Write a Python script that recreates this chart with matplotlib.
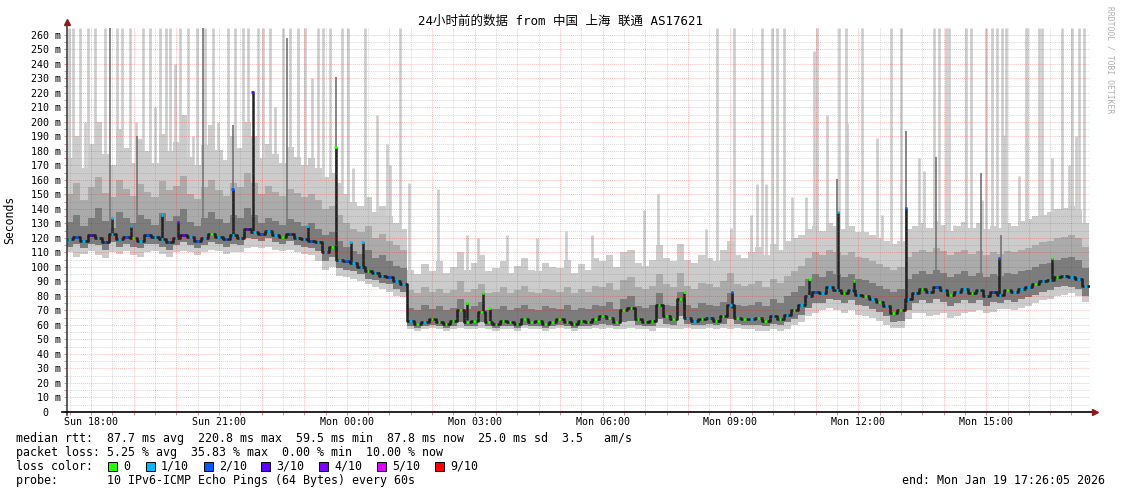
import matplotlib
matplotlib.use('Agg')
import matplotlib.pyplot as plt
import numpy as np
from matplotlib.patches import Rectangle

plt.rcParams['font.family'] = ['DejaVu Sans Mono', 'Noto Sans CJK SC']

# 10 minute samples, hours counted from Sun 00:00
t_first = 17.5
step_h = 1 / 6.

median_ms = [119, 121, 118, 122, 120, 117, 123, 119, 121, 120, 118, 122,
             121, 119, 117, 120, 122, 121, 118, 120, 123, 121, 119, 122,
             120, 126, 124, 123, 125, 122, 121, 123, 120, 119, 118, 117,
             110, 114, 105, 104, 103, 100, 97, 96, 94, 93, 90, 88,
             63, 61, 62, 64, 62, 61, 63, 70, 62, 63, 69, 62,
             61, 63, 62, 61, 64, 62, 63, 61, 62, 64, 62, 61,
             63, 62, 64, 66, 65, 62, 70, 72, 64, 62, 63, 74,
             66, 64, 78, 65, 63, 64, 65, 63, 66, 74, 65, 64,
             64, 65, 63, 66, 64, 67, 70, 74, 80, 83, 82, 86,
             84, 82, 84, 81, 80, 78, 76, 73, 68, 70, 78, 82,
             85, 83, 86, 84, 81, 83, 85, 82, 84, 80, 83, 81,
             84, 83, 85, 86, 88, 90, 91, 93, 94, 93, 92, 87]

loss_n = [1, 2, 1, 3, 1, 2, 1, 1, 2, 0, 1, 2,
          1, 1, 2, 1, 3, 1, 2, 1, 0, 1, 2, 1,
          1, 3, 1, 2, 1, 1, 0, 2, 1, 1, 2, 1,
          1, 0, 1, 2, 1, 1, 0, 1, 1, 2, 1, 1,
          1, 0, 1, 0, 0, 0, 0, 0, 0, 0, 0, 0,
          0, 0, 0, 0, 0, 0, 0, 0, 0, 0, 0, 0,
          0, 0, 0, 0, 0, 0, 0, 0, 0, 0, 0, 0,
          0, 0, 0, 1, 1, 0, 1, 0, 0, 1, 0, 0,
          1, 0, 0, 1, 0, 1, 0, 1, 1, 2, 1, 1,
          1, 0, 1, 1, 0, 1, 0, 1, 0, 0, 1, 1,
          0, 1, 2, 1, 0, 1, 1, 0, 1, 1, 2, 1,
          0, 1, 1, 1, 0, 1, 1, 0, 1, 1, 1, 1]

ping_min = [110, 107, 109, 111, 108, 106, 110, 109, 111, 108, 107, 110,
            111, 109, 107, 110, 111, 110, 108, 110, 112, 111, 109, 110,
            110, 113, 114, 113, 114, 112, 111, 112, 110, 109, 108, 104,
            98, 100, 94, 93, 92, 90, 88, 86, 85, 83, 80, 79,
            57, 56, 57, 58, 57, 56, 57, 58, 57, 57, 58, 57,
            56, 57, 57, 56, 58, 57, 57, 56, 57, 58, 57, 56,
            57, 57, 58, 57, 58, 57, 57, 58, 57, 57, 56, 58,
            58, 57, 57, 58, 57, 57, 58, 57, 58, 57, 58, 57,
            57, 56, 56, 57, 56, 57, 60, 62, 66, 68, 70, 72,
            70, 68, 70, 67, 66, 65, 63, 60, 58, 58, 64, 68,
            68, 66, 67, 68, 65, 66, 68, 69, 70, 68, 69, 71,
            71, 70, 72, 73, 75, 77, 78, 80, 81, 82, 80, 76]

ping_q1 = [114, 116, 113, 116, 115, 112, 117, 114, 116, 114, 113, 116,
           116, 114, 112, 115, 117, 115, 113, 115, 117, 116, 114, 116,
           115, 120, 119, 118, 120, 117, 116, 118, 115, 114, 113, 111,
           104, 107, 99, 98, 97, 95, 92, 91, 89, 88, 85, 83,
           59, 58, 59, 60, 59, 58, 59, 62, 59, 59, 62, 59,
           58, 59, 59, 58, 60, 59, 59, 58, 59, 60, 59, 58,
           59, 59, 60, 61, 60, 59, 62, 63, 60, 59, 59, 64,
           61, 60, 66, 61, 60, 60, 61, 60, 61, 64, 61, 60,
           60, 60, 59, 61, 60, 62, 64, 67, 72, 75, 75, 78,
           77, 75, 77, 74, 73, 71, 69, 66, 62, 63, 70, 75,
           77, 75, 78, 76, 73, 75, 77, 75, 77, 73, 76, 75,
           77, 76, 78, 79, 81, 83, 84, 86, 87, 86, 85, 80]

ping_q3 = [131, 136, 128, 134, 141, 132, 127, 138, 134, 130, 136, 133,
           129, 137, 132, 135, 140, 131, 128, 134, 138, 133, 130, 136,
           134, 141, 136, 130, 134, 132, 129, 133, 131, 128, 130, 126,
           122, 124, 118, 114, 111, 109, 112, 106, 108, 104, 101, 99,
           72, 70, 74, 71, 73, 70, 72, 78, 71, 73, 76, 70,
           71, 73, 70, 72, 74, 71, 70, 73, 72, 71, 74, 70,
           72, 71, 74, 73, 76, 71, 78, 80, 73, 72, 74, 82,
           74, 73, 83, 74, 72, 75, 74, 73, 76, 82, 74, 73,
           74, 76, 73, 78, 75, 80, 83, 87, 92, 95, 93, 97,
           95, 93, 95, 92, 91, 89, 87, 85, 83, 85, 92, 95,
           97, 95, 98, 96, 93, 95, 97, 94, 96, 93, 95, 94,
           96, 95, 97, 98, 100, 102, 103, 105, 106, 107, 105, 99]

ping_p90 = [150, 158, 146, 155, 162, 151, 148, 160, 154, 149, 157, 152,
            148, 159, 153, 156, 163, 150, 147, 155, 160, 153, 149, 158,
            155, 165, 158, 150, 156, 152, 149, 154, 151, 148, 150, 146,
            140, 142, 136, 130, 126, 124, 128, 120, 123, 118, 115, 112,
            84, 82, 86, 83, 85, 82, 84, 90, 83, 85, 88, 82,
            83, 86, 82, 84, 87, 83, 82, 85, 84, 83, 86, 82,
            85, 83, 87, 86, 89, 84, 91, 93, 86, 85, 87, 95,
            88, 86, 96, 87, 85, 89, 88, 86, 90, 96, 88, 87,
            88, 90, 86, 92, 89, 94, 97, 101, 106, 110, 108, 112,
            110, 108, 110, 107, 106, 104, 102, 100, 98, 100, 107, 110,
            112, 110, 113, 111, 108, 110, 112, 109, 111, 108, 110, 109,
            111, 110, 112, 113, 115, 117, 118, 120, 121, 122, 120, 114]

ping_max = [175, 190, 168, 185, 200, 178, 170, 195, 182, 172, 188, 180,
            172, 192, 180, 186, 205, 176, 170, 184, 198, 181, 174, 190,
            182, 200, 190, 175, 185, 178, 172, 183, 176, 170, 175, 168,
            162, 165, 158, 150, 145, 142, 148, 138, 142, 135, 130, 126,
            98, 95, 102, 97, 104, 96, 100, 110, 98, 103, 108, 97,
            99, 104, 96, 101, 106, 98, 97, 103, 100, 99, 105, 96,
            102, 98, 106, 104, 108, 100, 110, 112, 103, 101, 105, 115,
            106, 104, 116, 105, 103, 108, 106, 104, 112, 118, 108, 106,
            110, 114, 108, 116, 112, 118, 120, 122, 126, 128, 125, 130,
            128, 126, 128, 124, 124, 122, 120, 118, 116, 118, 126, 128,
            130, 127, 132, 129, 125, 128, 131, 127, 130, 126, 128, 127,
            130, 128, 132, 133, 135, 136, 138, 140, 141, 142, 139, 130]

# single slow pings (light smoke)
spike_t = [17.48, 17.58, 17.74, 17.86, 17.93, 18.09, 18.21, 18.33, 18.61, 18.72,
           18.91, 19.05, 19.22, 19.38, 19.50, 19.61, 19.76, 19.85, 19.97, 20.08,
           20.27, 20.39, 20.48, 20.67, 20.86, 20.97, 21.21, 21.37, 21.56, 21.68,
           21.91, 22.03, 22.19, 22.31, 22.50, 22.66, 22.85, 23.01, 23.18, 23.32,
           23.43, 23.60, 23.88, 24.02, 24.14, 24.42, 24.70, 24.94, 25.01, 25.24,
           25.47, 26.13, 26.81, 27.07, 27.75, 28.45, 29.15, 29.76, 30.98, 31.29,
           32.43, 32.69, 33.02, 33.09, 33.49, 33.63, 33.75, 33.84, 33.98, 34.10,
           34.26, 34.45, 34.78, 34.97, 35.04, 35.27, 35.55, 35.72, 35.74, 36.09,
           36.44, 36.56, 36.77, 37.01, 37.43, 37.55, 37.78, 37.90, 38.06, 38.13,
           38.25, 38.53, 38.64, 38.90, 38.99, 39.13, 39.25, 39.37, 39.41, 39.46,
           39.77, 39.93, 39.95, 40.24, 40.31, 40.54, 40.78, 40.94, 41.01, 41.11,
           41.18, 41.29]
spike_top = [265, 265, 265, 200, 265, 265, 180, 265, 265, 265,
             265, 200, 265, 265, 210, 265, 265, 265, 240, 265,
             265, 190, 265, 265, 265, 200, 265, 265, 265, 265,
             265, 265, 265, 210, 265, 265, 265, 265, 230, 265,
             265, 265, 265, 265, 168, 265, 205, 185, 170, 265,
             158, 154, 122, 120, 122, 120, 125, 122, 139, 150,
             126, 265, 127, 265, 136, 157, 265, 157, 265, 265,
             265, 148, 148, 249, 265, 205, 265, 265, 199, 265,
             189, 136, 265, 265, 175, 166, 265, 265, 265, 265,
             129, 265, 265, 146, 265, 265, 265, 265, 191, 265,
             163, 265, 265, 265, 265, 175, 265, 170, 265, 190,
             265, 265]

# darker smoke bursts
dark_t = [18.44, 19.08, 20.63, 21.32, 22.59, 23.74, 35.49, 37.12, 37.82, 38.88, 39.35]
dark_top = [265, 190, 265, 198, 258, 231, 161, 194, 176, 165, 122]

# short median excursions
jump_t = [18.49, 18.94, 19.66, 20.04, 21.32, 21.79, 23.08, 23.74, 24.09, 24.37,
          26.81, 27.19, 27.35, 31.92, 33.04, 34.85, 35.52, 35.90, 37.12, 39.30, 40.54]
jump_rtt = [134, 128, 136, 131, 154, 221, 128, 183, 117, 117,
            75, 82, 72, 83, 83, 92, 138, 90, 141, 106, 106]
jump_loss = [1, 1, 1, 3, 2, 3, 1, 0, 1, 1,
             0, 0, 0, 0, 2, 0, 1, 0, 2, 2, 0]

loss_names = ['0', '1/10', '2/10', '3/10', '4/10', '5/10', '9/10']
loss_colors = ['#26ff00', '#00b8ff', '#0059ff', '#5e00ff', '#7e00ff', '#dd00ff', '#ff0000']
loss_index = {0: 0, 1: 1, 2: 2, 3: 3, 4: 4, 5: 5, 9: 6}

hour_ticks = [18, 21, 24, 27, 30, 33, 36, 39]
hour_labels = ['Sun 18:00', 'Sun 21:00', 'Mon 00:00', 'Mon 03:00',
               'Mon 06:00', 'Mon 09:00', 'Mon 12:00', 'Mon 15:00']

W, H = 1121, 494
fig = plt.figure(figsize=(W / 100, H / 100), dpi=100)
fig.patch.set_facecolor('white')
ax = fig.add_axes([67 / W, 82 / H, 1023 / W, 384 / H])

n = len(median_ms)
t = t_first + np.arange(n) * step_h
edges = t_first - step_h / 2 + np.arange(n + 1) * step_h


def stepped(a):
    a = np.asarray(a, dtype=float)
    return np.append(a, a[-1])


med = np.asarray(median_ms, dtype=float)

# smoke
ax.fill_between(edges, stepped(ping_min), stepped(ping_max), step='post',
                color='#cccccc', lw=0, zorder=2)
base = np.interp(spike_t, t, ping_q3)
ax.vlines(spike_t, base, spike_top, color='#cccccc', lw=1.9, zorder=2)
ax.fill_between(edges, stepped(ping_q1), stepped(ping_p90), step='post',
                color='#ababab', lw=0, zorder=3)
ax.fill_between(edges, stepped(ping_q1), stepped(ping_q3), step='post',
                color='#7c7c7c', lw=0, zorder=4)
base = np.interp(dark_t, t, med)
ax.vlines(dark_t, base, dark_top, color='#7c7c7c', lw=1.3, zorder=4)

# median
ax.step(edges, stepped(med), where='post', color='#222222', lw=1.9, zorder=5)
base = np.interp(jump_t, t, med)
ax.vlines(jump_t, base, jump_rtt, color='#222222', lw=1.8, zorder=5)
cols = [loss_colors[loss_index[v]] for v in loss_n]
ax.hlines(med, t - 0.035, t + 0.025, colors=cols, lw=2.0, zorder=6)
cols = [loss_colors[loss_index[v]] for v in jump_loss]
ax.hlines(jump_rtt, np.array(jump_t) - 0.03, np.array(jump_t) + 0.03, colors=cols, lw=2.0, zorder=6)

# grid on top, rrdtool style
major_c = (1.0, 0.0, 0.0, 0.26)
minor_c = (0.5, 0.5, 0.5, 0.3)
dot = (0, (1, 1))
for v in range(5, 265, 5):
    ax.axhline(v, color=major_c if v % 10 == 0 else minor_c, lw=0.7, ls=dot, zorder=8)
for h in np.arange(17.5, 41.5, 0.5):
    ax.axvline(h, color=major_c if h % 1 == 0 else minor_c, lw=0.7, ls=dot, zorder=8)

ax.set_xlim(17.435, 41.435)
ax.set_ylim(0, 264.8)
ax.set_yticks(range(0, 261, 10))
ax.set_yticklabels([('%d m' % v) if v else '0  ' for v in range(0, 261, 10)])
ax.set_yticks(range(5, 261, 10), minor=True)
ax.set_xticks(hour_ticks)
ax.set_xticklabels(hour_labels)
ax.set_xticks(np.arange(17.5, 41.5, 0.5), minor=True)
ax.tick_params(which='both', labelsize=7.2, length=2, width=0.7, color='#d89090', pad=2)
ax.tick_params(axis='x', which='major', pad=1.5)

for s in ['top', 'right', 'left', 'bottom']:
    ax.spines[s].set_visible(False)
ax.plot([0, 0], [-0.008, 1.012], transform=ax.transAxes, color='#404040', lw=1.2, clip_on=False, zorder=9)
ax.plot([-0.005, 1.003], [0, 0], transform=ax.transAxes, color='black', lw=1.2, clip_on=False, zorder=9)
ax.plot([0], [1.016], marker='^', ms=4, color='#8b1c1c', transform=ax.transAxes, clip_on=False, zorder=9)
ax.plot([1.005], [0], marker='>', ms=4, color='#8b1c1c', transform=ax.transAxes, clip_on=False, zorder=9)

# texts
fig.text(560 / W, 1 - 21 / H, '24小时前的数据 from 中国 上海 联通 AS17621',
         ha='center', va='center', fontsize=9)
fig.text(10 / W, 1 - 220 / H, 'Seconds', rotation=90, ha='center', va='center', fontsize=8.3)
fig.text(1110 / W, 1 - 60 / H, 'RRDTOOL / TOBI OETIKER', rotation=270,
         ha='center', va='center', fontsize=5.8, color='#b0b0b0')

fs = 8.4
fig.text(16 / W, 1 - 438 / H,
         'median rtt:  87.7 ms avg  220.8 ms max  59.5 ms min  87.8 ms now  25.0 ms sd  3.5   am/s',
         va='center', fontsize=fs)
fig.text(16 / W, 1 - 452 / H,
         'packet loss: 5.25 % avg  35.83 % max  0.00 % min  10.00 % now',
         va='center', fontsize=fs)
fig.text(16 / W, 1 - 466 / H, 'loss color:', va='center', fontsize=fs)
box_x = [108, 146, 204, 261, 319, 377, 435]
for bx, name, c in zip(box_x, loss_names, loss_colors):
    fig.add_artist(Rectangle((bx / W, 1 - 471 / H), 9 / W, 9 / H, transform=fig.transFigure,
                             facecolor=c, edgecolor='black', lw=0.7))
    fig.text((bx + 15) / W, 1 - 466 / H, name, va='center', fontsize=fs)
fig.text(16 / W, 1 - 480 / H, 'probe:       10 IPv6-ICMP Echo Pings (64 Bytes) every 60s',
         va='center', fontsize=fs)
fig.text(1105 / W, 1 - 480 / H, 'end: Mon Jan 19 17:26:05 2026', ha='right', va='center', fontsize=fs)

fig.savefig('out.png', dpi=100, facecolor='white')
